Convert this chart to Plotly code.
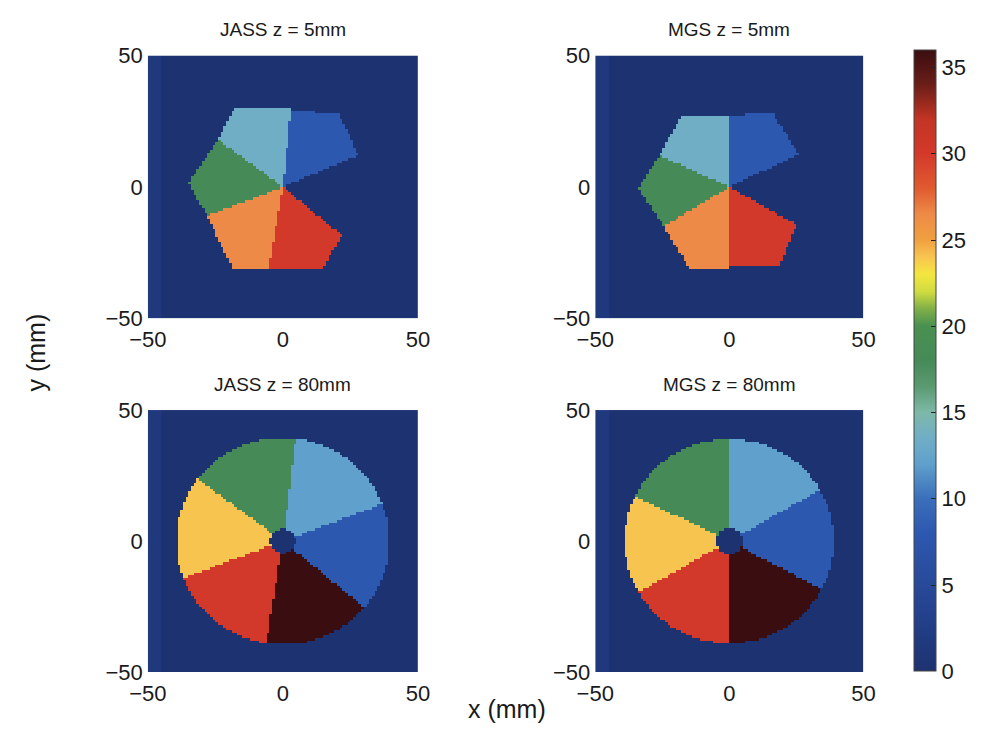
import numpy as np
import plotly.graph_objects as go

# ---------------- data ----------------
panel_titles = ["JASS z = 5mm", "MGS z = 5mm", "JASS z = 80mm", "MGS z = 80mm"]
tick_vals = [-50, 0, 50]
cbar_ticks = [0, 5, 10, 15, 20, 25, 30, 35]
z_min, z_max = 0, 36
background_value = 0
strip_value = 1.5        # slightly lighter column strip at the left edge
strip_edge = -45

# z = 5 mm: sector polygons (vertices in mm) and their values
jass5_polys = [
    [(0, 0), (3, 29.5), (-18, 30), (-24, 18)],
    [(0, 0), (3, 29.5), (21, 27.5), (28, 12)],
    [(0, 0), (22, -18.5), (15, -30.5), (-5, -30.5)],
    [(0, 0), (-5, -30.5), (-19, -30.5), (-28, -11)],
    [(0, 0), (-28, -11), (-35, 1.5), (-24, 18)],
]
jass5_values = [13.5, 8, 30, 26.5, 18]

mgs5_polys = [
    [(0, 0), (0.3, 27), (-18, 27), (-26, 12)],
    [(0, 0), (0.3, 27), (16, 28.5), (26, 12.5)],
    [(0, 0), (25, -14.3), (19, -29.5), (0.3, -30.5)],
    [(0, 0), (0.3, -30.5), (-15, -30.5), (-24.5, -15)],
    [(0, 0), (-24.5, -15), (-34, -0.5), (-26, 12)],
]
mgs5_values = [13.5, 8, 30, 26.5, 18]

# z = 80 mm: disc split into sectors (boundary angles in degrees, clockwise)
jass80_bounds = [143, 83, 21, -40, -99, -159]
jass80_values = [18, 12, 8, 36, 30, 24]
jass80_radius = 39.5
jass80_hole = 4.7

mgs80_bounds = [154, 90, 30, -28, -90, -150]
mgs80_values = [18, 12, 8, 36, 30, 24]
mgs80_radius = 39.0
mgs80_hole = 5.0

# colour map (value, colour)
cmap_values = [0, 3, 6, 8, 10, 12, 13.5, 15, 16.5, 18, 20, 21, 22, 23, 24, 25, 26.5, 28, 30, 32, 34, 36]
cmap_colors = ["#1d3270", "#23408a", "#2a4ea0", "#2d58b0", "#3a6fba", "#5fa0cc", "#70aec6",
               "#7eb8a8", "#5a9a70", "#468a58", "#4a9050", "#80b048", "#d0dc40", "#f4e640",
               "#f8c450", "#f0a040", "#ee8a48", "#e05a30", "#d3392a", "#c23424", "#6a1e18",
               "#3a0e10"]

# ---------------- raster grid ----------------
xc = np.arange(-49.5, 50, 1.0)
yc = np.arange(-49.5, 50, 1.0)
X, Y = np.meshgrid(xc, yc)


def base():
    Z = np.full(X.shape, float(background_value))
    Z[X < strip_edge] = strip_value
    return Z


def inside(poly, X, Y):
    res = np.zeros(X.shape, dtype=bool)
    n = len(poly)
    j = n - 1
    for i in range(n):
        xi, yi = poly[i]
        xj, yj = poly[j]
        with np.errstate(divide="ignore", invalid="ignore"):
            xint = (xj - xi) * (Y - yi) / ((yj - yi) if yj != yi else 1e-12) + xi
        cond = ((yi > Y) != (yj > Y)) & (X < xint)
        res ^= cond
        j = i
    return res


def polys_grid(polys, values):
    Z = base()
    for p, v in zip(polys, values):
        Z[inside(p, X, Y)] = v
    return Z


def disc_grid(bounds, values, radius, hole):
    Z = base()
    ang = np.degrees(np.arctan2(Y, X))
    r = np.hypot(X, Y)
    nb = len(bounds)
    for i in range(nb):
        a1 = bounds[i]
        a2 = bounds[(i + 1) % nb]
        span = (a1 - a2) % 360
        m = ((ang - a2) % 360 < span) & (r <= radius) & (r > hole)
        Z[m] = values[i]
    return Z


grids = [
    polys_grid(jass5_polys, jass5_values),
    polys_grid(mgs5_polys, mgs5_values),
    disc_grid(jass80_bounds, jass80_values, jass80_radius, jass80_hole),
    disc_grid(mgs80_bounds, mgs80_values, mgs80_radius, mgs80_hole),
]

# ---------------- figure ----------------
W, H = 983, 739
px_x = [(133, 412), (595, 872), (133, 412), (595, 872)]
px_y = [(45, 317), (45, 317), (412, 683), (412, 683)]
title_y = [18, 18, 386, 386]

colorscale = [[(v - z_min) / (z_max - z_min), c] for v, c in zip(cmap_values, cmap_colors)]
font_family = "Liberation Sans, Arial, sans-serif"
txt = "#1a1a1a"
tick_font = dict(size=22, color=txt, family=font_family)

fig = go.Figure()
layout_axes = {}
annotations = []
for k in range(4):
    sx = "" if k == 0 else str(k + 1)
    fig.add_trace(go.Heatmap(
        x=xc, y=yc, z=grids[k], coloraxis="coloraxis",
        xaxis="x" + sx, yaxis="y" + sx, hoverinfo="skip"))
    x0, x1 = px_x[k]
    y0, y1 = px_y[k]
    layout_axes["xaxis" + sx] = dict(
        domain=[x0 / W, x1 / W], anchor="y" + sx, range=[-50, 50],
        tickvals=tick_vals, showgrid=False, zeroline=False, ticks="",
        ticklabelstandoff=6, tickfont=tick_font,
        showline=False, fixedrange=True)
    layout_axes["yaxis" + sx] = dict(
        domain=[1 - y1 / H, 1 - y0 / H], anchor="x" + sx, range=[-50, 50],
        tickvals=tick_vals, showgrid=False, zeroline=False, ticks="",
        ticklabelstandoff=4, tickfont=tick_font,
        showline=False, fixedrange=True)
    annotations.append(dict(
        x=(x0 + x1) / 2 / W, y=1 - title_y[k] / H, xref="paper", yref="paper",
        text=panel_titles[k], showarrow=False, xanchor="center", yanchor="middle",
        font=dict(size=19, color=txt, family=font_family)))

annotations.append(dict(x=18 / W, y=1 - 352 / H, xref="paper", yref="paper",
                        text="y (mm)", textangle=-90, showarrow=False,
                        xanchor="center", yanchor="middle",
                        font=dict(size=25, color=txt, family=font_family)))
annotations.append(dict(x=504 / W, y=1 - 721 / H, xref="paper", yref="paper",
                        text="x (mm)", showarrow=False,
                        xanchor="center", yanchor="middle",
                        font=dict(size=25, color=txt, family=font_family)))

fig.update_layout(
    width=W, height=H,
    margin=dict(l=0, r=0, t=0, b=0),
    paper_bgcolor="white", plot_bgcolor="white",
    showlegend=False,
    annotations=annotations,
    coloraxis=dict(
        colorscale=colorscale, cmin=z_min, cmax=z_max,
        colorbar=dict(
            x=924 / W, xanchor="left", xpad=0, ypad=0,
            y=1 - 361 / H, yanchor="middle", len=643 / H, lenmode="fraction",
            thickness=22, thicknessmode="pixels",
            tickvals=cbar_ticks, ticks="inside", ticklen=5, tickcolor="#222",
            tickfont=tick_font,
            outlinewidth=1, outlinecolor="#444")),
    **layout_axes)

fig.write_html("out.html")
